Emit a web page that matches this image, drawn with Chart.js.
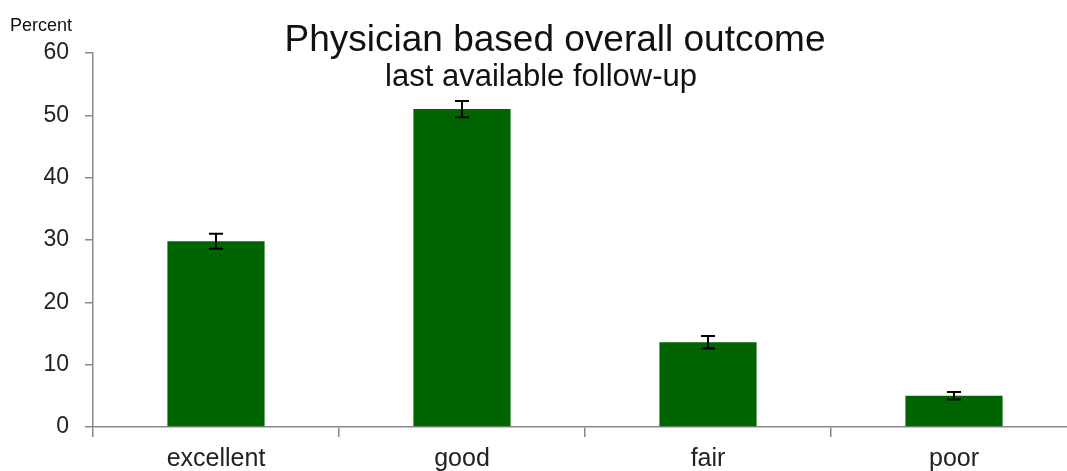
<!DOCTYPE html>
<html>
<head>
<meta charset="utf-8">
<script src="https://cdn.jsdelivr.net/npm/chart.js@4.4.1/dist/chart.umd.min.js"></script>
<style>
  html, body { margin: 0; padding: 0; background: #fff; overflow: hidden; }
  #wrap { width: 1080px; height: 471px; position: relative; }
</style>
</head>
<body>
<div id="wrap"><canvas id="chart"></canvas></div>
<script>
const categorias = ["excellent", "good", "fair", "poor"];
const porcentajes = [29.8, 51.0, 13.6, 5.0];
const errores = [1.2, 1.3, 1.0, 0.6];
const yTicks = [0, 10, 20, 30, 40, 50, 60];

const FONT = "'Liberation Sans', Arial, sans-serif";

// barras de error (T)
const errorBars = {
  id: "errorBars",
  afterDatasetsDraw(chart) {
    const { ctx } = chart;
    const y = chart.scales.y;
    const meta = chart.getDatasetMeta(0);
    ctx.save();
    ctx.strokeStyle = "#000";
    ctx.lineWidth = 2;
    meta.data.forEach((bar, i) => {
      const top = y.getPixelForValue(porcentajes[i] + errores[i]);
      const bot = y.getPixelForValue(porcentajes[i] - errores[i]);
      const cap = 7;
      ctx.beginPath();
      ctx.moveTo(bar.x, top);
      ctx.lineTo(bar.x, bot);
      ctx.moveTo(bar.x - cap, top);
      ctx.lineTo(bar.x + cap, top);
      ctx.moveTo(bar.x - cap, bot);
      ctx.lineTo(bar.x + cap, bot);
      ctx.stroke();
    });
    ctx.restore();
  },
};

// titulos y etiqueta del eje
const textos = {
  id: "textos",
  afterDraw(chart) {
    const { ctx } = chart;
    ctx.save();
    ctx.fillStyle = "#111";
    ctx.textBaseline = "alphabetic";
    ctx.textAlign = "center";
    ctx.font = `37px ${FONT}`;
    ctx.fillText("Physician based overall outcome", 555, 51);
    ctx.font = `31px ${FONT}`;
    ctx.fillText("last available follow-up", 541, 86);
    ctx.textAlign = "left";
    ctx.font = `18px ${FONT}`;
    ctx.fillText("Percent", 10, 31);
    ctx.restore();
  },
};

new Chart(document.getElementById("chart"), {
  type: "bar",
  data: {
    labels: categorias,
    datasets: [
      {
        data: porcentajes,
        backgroundColor: "#006400",
        borderWidth: 0,
        categoryPercentage: 1,
        barPercentage: 0.395,
      },
    ],
  },
  options: {
    responsive: true,
    maintainAspectRatio: false,
    animation: false,
    layout: { padding: { top: 53, right: 3, left: 0, bottom: 0 } },
    plugins: {
      legend: { display: false },
      tooltip: { enabled: false },
    },
    scales: {
      x: {
        grid: {
          offset: true,
          drawOnChartArea: false,
          tickLength: 10,
          color: "#888",
          lineWidth: 1.5,
        },
        border: { color: "#888", width: 1.5 },
        ticks: { font: { family: FONT, size: 25 }, color: "#222", padding: 7 },
        afterFit: (s) => { s.height = 44; },
      },
      y: {
        min: 0,
        max: 60,
        afterBuildTicks: (s) => { s.ticks = yTicks.map((v) => ({ value: v })); },
        grid: {
          drawOnChartArea: false,
          tickLength: 8,
          color: "#888",
          lineWidth: 1.5,
        },
        border: { color: "#888", width: 1.5 },
        ticks: { font: { family: FONT, size: 23 }, color: "#222", padding: 16 },
        afterFit: (s) => { s.width = 93; },
      },
    },
  },
  plugins: [errorBars, textos],
});
</script>
</body>
</html>
